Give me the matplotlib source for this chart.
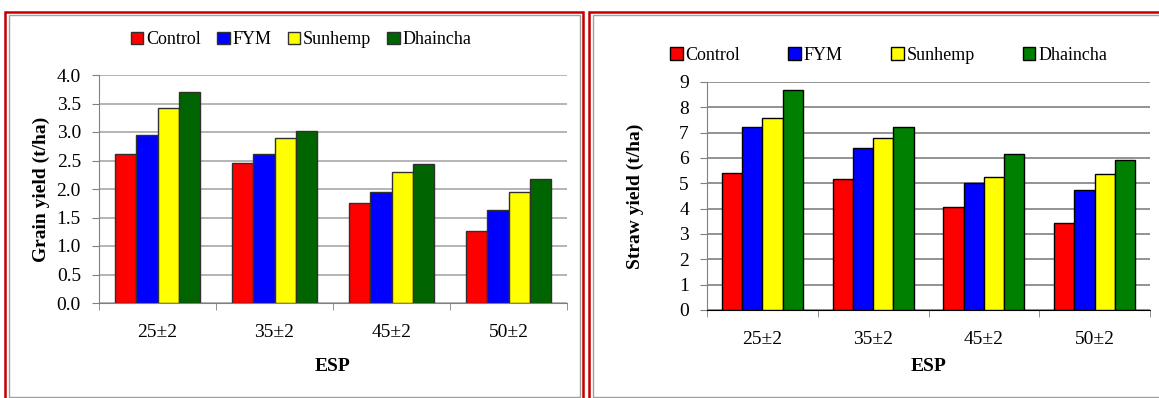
# grain and straw yield by ESP level, two bar panels
import matplotlib.pyplot as plt
import numpy as np
from matplotlib.patches import Rectangle

plt.rcParams["font.family"] = ["Liberation Serif", "DejaVu Serif"]

categories = ["25\u00b12", "35\u00b12", "45\u00b12", "50\u00b12"]
treatments = ["Control", "FYM", "Sunhemp", "Dhaincha"]

grain_control = [2.62, 2.45, 1.76, 1.26]
grain_fym = [2.95, 2.61, 1.94, 1.64]
grain_sunhemp = [3.42, 2.89, 2.29, 1.95]
grain_dhaincha = [3.71, 3.02, 2.44, 2.18]

straw_control = [5.39, 5.16, 4.05, 3.42]
straw_fym = [7.24, 6.41, 5.02, 4.73]
straw_sunhemp = [7.56, 6.79, 5.26, 5.36]
straw_dhaincha = [8.67, 7.23, 6.15, 5.93]

W, H = 1159, 398
fig = plt.figure(figsize=(W / 100, H / 100), dpi=100)


def box(x0, y0, x1, y1):
    # pixel box (top-left origin) -> figure fraction rect
    return [x0 / W, 1 - y1 / H, (x1 - x0) / W, (y1 - y0) / H]


# panel frames: red outer line, gray inner line
for x0, x1 in [(5, 583), (589, 1170)]:
    fig.add_artist(Rectangle((x0 / W, 1 - 420 / H), (x1 - x0) / W, (420 - 12) / H,
                             transform=fig.transFigure, fill=False,
                             edgecolor="#c00000", linewidth=1.8))
    fig.add_artist(Rectangle(((x0 + 3.5) / W, 1 - 397 / H), (x1 - x0 - 7) / W, (397 - 15) / H,
                             transform=fig.transFigure, fill=False,
                             edgecolor="#a0a0a0", linewidth=1.0))

x = np.arange(len(categories))
bw = 0.183


def draw(ax, series, colors, edge, grid_color, ylim, yticks, fmt, ylabel):
    for i, (vals, c) in enumerate(zip(series, colors)):
        ax.bar(x + (i - 1.5) * bw, vals, bw, color=c, edgecolor=edge,
               linewidth=1.0, label=treatments[i], zorder=3)
    ax.set_xlim(-0.5, 3.5)
    ax.set_ylim(*ylim)
    ax.set_yticks(yticks)
    ax.set_yticklabels([fmt.format(v) for v in yticks], fontsize=14)
    ax.set_xticks(x)
    ax.set_xticklabels(categories, fontsize=14)
    ax.set_xticks(np.arange(-0.5, 4, 1), minor=True)
    ax.tick_params(axis="x", which="major", length=0, pad=15)
    ax.tick_params(axis="x", which="minor", length=5, color="#808080")
    ax.tick_params(axis="y", length=5, color="#808080", pad=8)
    ax.yaxis.grid(True, color=grid_color, linewidth=1.2, zorder=0)
    for s in ["top", "right"]:
        ax.spines[s].set_visible(False)
    ax.spines["left"].set_color("#808080")
    ax.spines["bottom"].set_color("#808080")
    ax.set_ylabel(ylabel, fontsize=14, fontweight="bold")
    ax.set_xlabel("ESP", fontsize=14, fontweight="bold")


ax1 = fig.add_axes(box(99, 75, 567, 303))
draw(ax1, [grain_control, grain_fym, grain_sunhemp, grain_dhaincha],
     ["#ff0000", "#0000ff", "#ffff00", "#006400"], "#303030", "#a8a8a8",
     (0, 4.0), np.arange(0, 4.01, 0.5), "{:.1f}", "Grain yield (t/ha)")
ax1.yaxis.set_label_coords(-0.104, 0.5)
ax1.xaxis.set_label_coords(0.5, -0.24)
ax1.legend(loc="center", bbox_to_anchor=(0.432, 1.155), ncol=4, frameon=False,
           fontsize=13, handlelength=0.7, handleheight=0.7, handletextpad=0.15,
           columnspacing=0.9)

ax2 = fig.add_axes(box(707, 82, 1150, 310))
draw(ax2, [straw_control, straw_fym, straw_sunhemp, straw_dhaincha],
     ["#ff0000", "#0000ff", "#ffff00", "#008000"], "#000000", "#808080",
     (0, 9), np.arange(0, 10, 1), "{:.0f}", "Straw yield (t/ha)")
ax2.spines["bottom"].set_color("#000000")
ax2.yaxis.set_label_coords(-0.142, 0.5)
ax2.xaxis.set_label_coords(0.5, -0.21)
ax2.legend(loc="center", bbox_to_anchor=(0.41, 1.117), ncol=4, frameon=False,
           fontsize=13, handlelength=0.7, handleheight=0.7, handletextpad=0.15,
           columnspacing=2.67)

fig.savefig("out.png", dpi=100)
